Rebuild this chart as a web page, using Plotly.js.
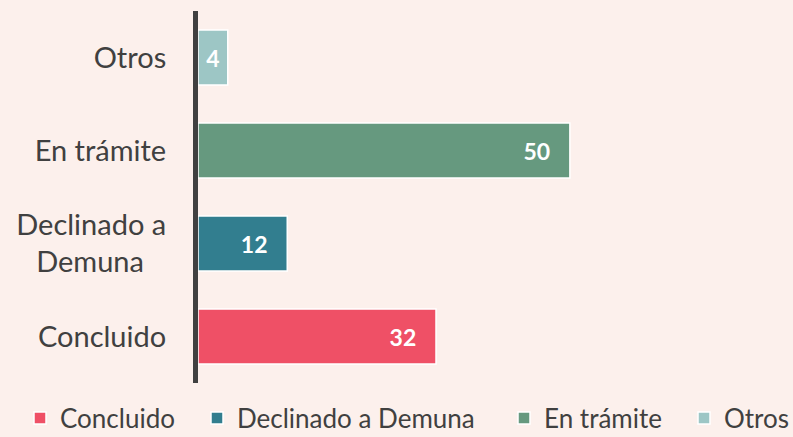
<!DOCTYPE html>
<html><head><meta charset="utf-8">
<script src="https://cdn.plot.ly/plotly-3.0.1.min.js"></script>
<style>html,body{margin:0;padding:0;background:#FCF0EC;}#chart{width:793px;height:437px;}</style>
</head><body><div id="chart"></div>
<script>
const categories = ["Concluido", "Declinado a<br>Demuna\u00a0\u00a0\u00a0", "En trámite", "Otros"];
const legendNames = ["Concluido", "Declinado a Demuna", "En trámite", "Otros"];
const values = [32, 12, 50, 4];
const colors = ["#EF5066", "#327E8F", "#66997F", "#9DC6C5"];
const legendIds = ["legend", "legend2", "legend3", "legend4"];
const legendLeft = [20, 197, 504, 684];

const traces = categories.map((c, i) => {
  const narrow = values[i] < 8;
  return {
    type: "bar",
    orientation: "h",
    name: legendNames[i],
    legend: legendIds[i],
    y: [c],
    x: [values[i]],
    marker: {color: colors[i], line: {color: "#FFFFFF", width: 1.5}},
    text: [narrow ? String(values[i]) : String(values[i]) + "\u00a0\u00a0\u00a0"],
    textposition: "inside",
    insidetextanchor: narrow ? "middle" : "end",
    textfont: {family: "Lato", size: 23, color: "#FFFFFF", weight: "bold"},
    hoverinfo: "skip"
  };
});

const layout = {
  width: 793, height: 437,
  paper_bgcolor: "#FCF0EC",
  plot_bgcolor: "#FCF0EC",
  margin: {l: 198, r: 0, t: 11, b: 54},
  barmode: "overlay",
  bargap: 0.41,
  showlegend: true,
  font: {family: "Lato", color: "#404040"},
  xaxis: {range: [0, 80], showgrid: false, zeroline: false, showticklabels: false, showline: false, fixedrange: true},
  yaxis: {
    categoryorder: "array", categoryarray: categories,
    showline: true, linecolor: "#404040", linewidth: 5,
    showgrid: false, zeroline: false, ticks: "",
    ticklabelstandoff: 21,
    tickfont: {family: "Lato", size: 29, color: "#404040"}
  }
};
legendIds.forEach((id, i) => {
  layout[id] = {
    orientation: "h", xref: "container", yref: "container",
    x: legendLeft[i] / 793, xanchor: "left", y: 1 - 418 / 437, yanchor: "middle",
    font: {family: "Lato", size: 26, color: "#404040"},
    bgcolor: "rgba(0,0,0,0)"
  };
});
Plotly.newPlot("chart", traces, layout, {staticPlot: true, displayModeBar: false});
</script></body></html>
